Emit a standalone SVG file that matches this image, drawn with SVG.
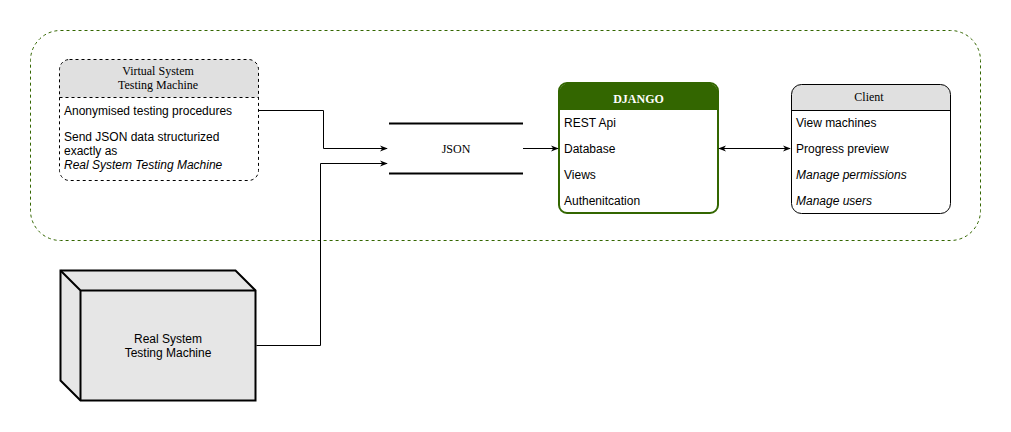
<svg xmlns="http://www.w3.org/2000/svg" width="1011" height="432" viewBox="0 0 1011 432">
<style>
.sans{font-family:"Liberation Sans",Arial,sans-serif;font-size:12px;fill:#000}
.serif{font-family:"Liberation Serif","Times New Roman",serif;font-size:12px;fill:#000}
.conn{fill:none;stroke:#000;stroke-width:1}
</style>
<defs>
<marker id="arr" viewBox="0 0 10 10" refX="9" refY="5" markerWidth="8" markerHeight="8" orient="auto-start-reverse" markerUnits="userSpaceOnUse">
<path d="M0,1 L10,5 L0,9 L3,5 Z" fill="#000"/>
</marker>
</defs>
<rect width="1011" height="432" fill="#fff"/>
<g id="container">
<rect x="30.5" y="30.5" width="950" height="210" rx="30" fill="none" stroke="#336600" stroke-dasharray="3 3"/>
</g>
<g id="virtual">
<path d="M59.5,97.5 V69.5 a10,10 0 0 1 10,-10 H248.5 a10,10 0 0 1 10,10 V97.5 Z" fill="#e0e0e0"/>
<rect x="59.5" y="59.5" width="199" height="121" rx="10" fill="none" stroke="#000" stroke-dasharray="3 3"/>
<line x1="59.5" y1="97.5" x2="258.5" y2="97.5" stroke="#000" stroke-dasharray="3 3"/>
<text class="serif" x="158" y="75" text-anchor="middle">Virtual System</text>
<text class="serif" x="158" y="89" text-anchor="middle">Testing Machine</text>
<text class="sans" x="64" y="115">Anonymised testing procedures</text>
<text class="sans" x="64" y="141">Send JSON data structurized</text>
<text class="sans" x="64" y="155">exactly as</text>
<text class="sans" x="64" y="169" font-style="italic">Real System Testing Machine</text>
</g>
<g id="json">
<line x1="389" y1="123.5" x2="523" y2="123.5" stroke="#000" stroke-width="2"/>
<line x1="389" y1="173.5" x2="523" y2="173.5" stroke="#000" stroke-width="2"/>
<text class="serif" x="456" y="153" text-anchor="middle">JSON</text>
</g>
<g id="django">
<path d="M559,110 V93 a10,10 0 0 1 10,-10 H708 a10,10 0 0 1 10,10 V110 Z" fill="#336600"/>
<rect x="559" y="83" width="159" height="130" rx="8" fill="none" stroke="#336600" stroke-width="2"/>
<text class="serif" x="638.5" y="103" text-anchor="middle" font-weight="bold" fill="#fff" style="fill:#fff">DJANGO</text>
<text class="sans" x="564" y="127">REST Api</text>
<text class="sans" x="564" y="153">Database</text>
<text class="sans" x="564" y="179">Views</text>
<text class="sans" x="564" y="205">Authenitcation</text>
</g>
<g id="client">
<path d="M791.5,110.5 V94.5 a10,10 0 0 1 10,-10 H940.5 a10,10 0 0 1 10,10 V110.5 Z" fill="#e0e0e0"/>
<rect x="791.5" y="84.5" width="159" height="129" rx="10" fill="none" stroke="#000"/>
<line x1="791.5" y1="110.5" x2="950.5" y2="110.5" stroke="#000"/>
<text class="serif" x="869" y="101" text-anchor="middle">Client</text>
<text class="sans" x="796" y="127">View machines</text>
<text class="sans" x="796" y="153">Progress preview</text>
<text class="sans" x="796" y="179" font-style="italic">Manage permissions</text>
<text class="sans" x="796" y="205" font-style="italic">Manage users</text>
</g>
<g id="real">
<path d="M60.5,270.5 H235.5 L255.5,290.5 V400.5 H80.5 L60.5,380.5 Z" fill="#e6e6e6" stroke="#000" stroke-width="2" stroke-linejoin="miter"/>
<path d="M60.5,270.5 L80.5,290.5 H255.5 M80.5,290.5 V400.5" fill="none" stroke="#000" stroke-width="2"/>
<text class="sans" x="168" y="343" text-anchor="middle">Real System</text>
<text class="sans" x="168" y="357" text-anchor="middle">Testing Machine</text>
</g>
<g id="connectors">
<path class="conn" d="M258.5,110.5 H323.5 V148.5 H387" marker-end="url(#arr)"/>
<path class="conn" d="M256.5,345.5 H320.5 V163.5 H387" marker-end="url(#arr)"/>
<path class="conn" d="M523,148.5 H558" marker-end="url(#arr)"/>
<path class="conn" d="M719,148.5 H790" marker-start="url(#arr)" marker-end="url(#arr)"/>
</g>
</svg>
